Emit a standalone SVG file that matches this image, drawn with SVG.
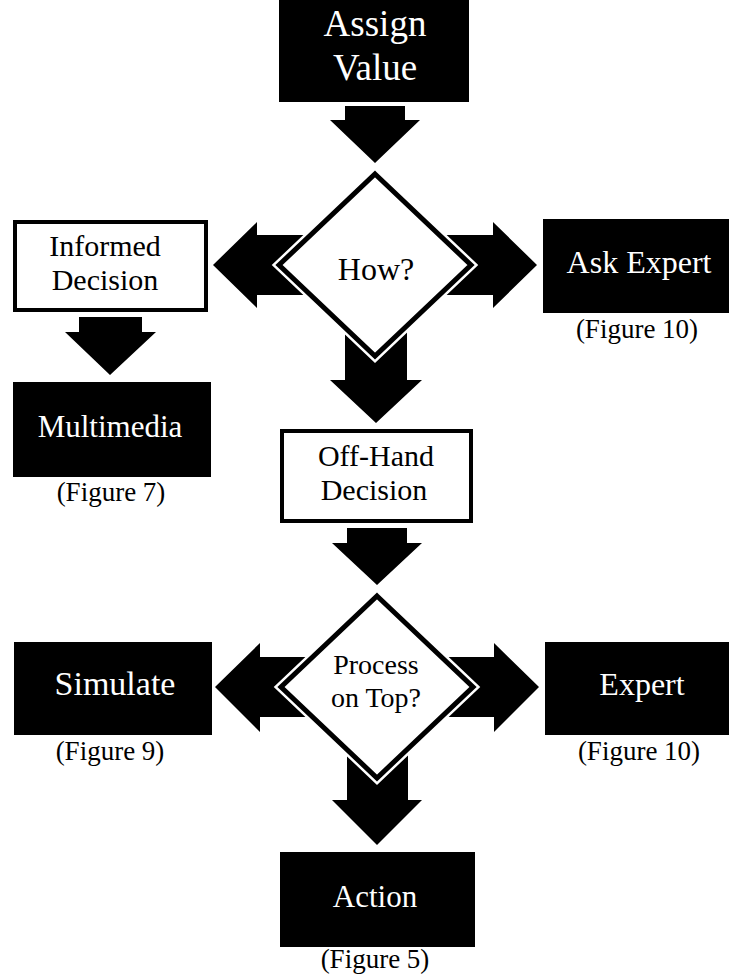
<svg xmlns="http://www.w3.org/2000/svg" width="729" height="978" viewBox="0 0 729 978">
<style>
.arrow{fill:#000;stroke:none}
.dark{fill:#000}
.light{fill:#fff;stroke:#000;stroke-width:4}
.halo{fill:#fff;stroke:#fff;stroke-width:10;stroke-linejoin:miter}
.dia{fill:#fff;stroke:#000;stroke-width:5;stroke-linejoin:miter}
text{font-family:"Liberation Serif","Times New Roman",serif;text-anchor:middle}
.w{fill:#fff}
.b{fill:#000}
.fig{font-size:27px;fill:#000}
</style>
<rect x="0" y="0" width="729" height="978" fill="#fff"/>
<g id="connectors">
  <polygon class="arrow" points="345,106 405,106 405,120 420,120 375,163 330,120 345,120"/>
  <polygon class="arrow" points="330,235 257,235 257,222 213,265 257,308 257,295 330,295"/>
  <polygon class="arrow" points="420,235 493,235 493,222 537,265 493,308 493,295 420,295"/>
  <polygon class="arrow" points="345,320 407,320 407,380 422,380 376,423 330,380 345,380"/>
  <polygon class="arrow" points="79,317 142,317 142,332 156,332 110,375 65,332 79,332"/>
  <polygon class="arrow" points="347,528 407,528 407,543 422,543 377,585 332,543 347,543"/>
  <polygon class="arrow" points="330,657 260,657 260,643 215,687 260,732 260,717 330,717"/>
  <polygon class="arrow" points="420,657 494,657 494,643 539,687 494,732 494,717 420,717"/>
  <polygon class="arrow" points="347,740 408,740 408,800 422,800 377,845 332,800 347,800"/>
</g>
<g id="assign-value">
  <rect class="dark" x="279" y="0" width="190" height="102"/>
  <text class="w" x="375" y="36" font-size="37">Assign</text>
  <text class="w" x="375" y="80" font-size="37">Value</text>
</g>
<g id="how">
  <polygon class="halo" points="375,174 471,265 375,356 279,265"/>
  <polygon class="dia" points="375,174 471,265 375,356 279,265"/>
  <text class="b" x="376" y="280" font-size="32">How?</text>
</g>
<g id="informed-decision">
  <rect class="light" x="15" y="222" width="191" height="88"/>
  <text class="b" x="105" y="256" font-size="30">Informed</text>
  <text class="b" x="105" y="290" font-size="30">Decision</text>
</g>
<g id="ask-expert">
  <rect class="dark" x="543" y="219" width="186" height="94"/>
  <text class="w" x="639" y="273" font-size="32">Ask Expert</text>
  <text class="fig" x="637" y="338">(Figure 10)</text>
</g>
<g id="multimedia">
  <rect class="dark" x="13" y="382" width="198" height="95"/>
  <text class="w" x="110" y="437" font-size="31">Multimedia</text>
  <text class="fig" x="111" y="501">(Figure 7)</text>
</g>
<g id="off-hand-decision">
  <rect class="light" x="282" y="431" width="189" height="90"/>
  <text class="b" x="376" y="466" font-size="30">Off-Hand</text>
  <text class="b" x="374" y="500" font-size="30">Decision</text>
</g>
<g id="process-on-top">
  <polygon class="halo" points="377,596 473,687 377,778 281,687"/>
  <polygon class="dia" points="377,596 473,687 377,778 281,687"/>
  <text class="b" x="376" y="674" font-size="28">Process</text>
  <text class="b" x="376" y="707" font-size="28">on Top?</text>
</g>
<g id="simulate">
  <rect class="dark" x="14" y="642" width="198" height="93"/>
  <text class="w" x="115" y="695" font-size="34">Simulate</text>
  <text class="fig" x="110" y="760">(Figure 9)</text>
</g>
<g id="expert">
  <rect class="dark" x="545" y="642" width="184" height="93"/>
  <text class="w" x="642" y="695" font-size="32">Expert</text>
  <text class="fig" x="639" y="760">(Figure 10)</text>
</g>
<g id="action">
  <rect class="dark" x="280" y="852" width="195" height="95"/>
  <text class="w" x="375" y="907" font-size="31">Action</text>
  <text class="fig" x="375" y="968">(Figure 5)</text>
</g>
</svg>
